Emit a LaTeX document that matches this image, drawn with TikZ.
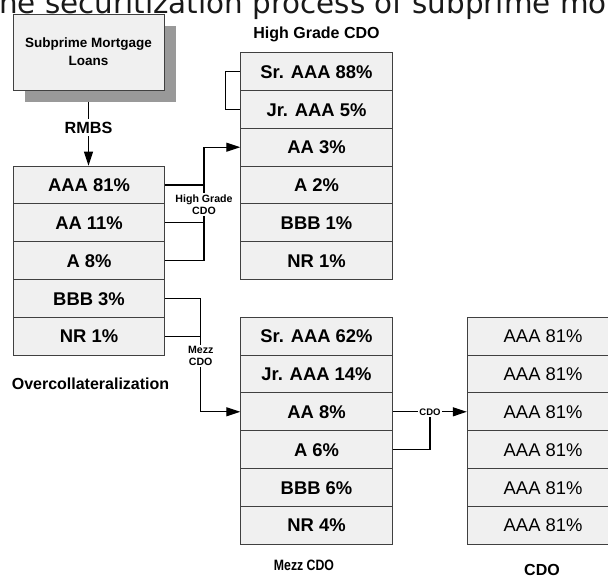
\documentclass[tikz,border=0pt]{standalone}
\usepackage{graphicx}
\usepackage{fontspec}
\setmainfont{Liberation Sans}
\newfontfamily\titlefont{DejaVu Sans}
\usetikzlibrary{arrows.meta,shadows}
\pgfdeclarelayer{bg}
\pgfdeclarelayer{paper}
\pgfsetlayers{paper,bg,main}
\begin{document}
\begin{tikzpicture}[x=1pt,y=-1pt,
  cellbase/.style={draw=black!75, line width=0.9pt, fill=black!6, minimum width=151.6pt,
    minimum height=37.8pt, inner sep=0pt, text height=13.2pt, text depth=0pt},
  cell/.style={cellbase, font=\fontsize{18.4}{22}\selectfont\bfseries},
  cellr/.style={cellbase, font=\fontsize{18.4}{22}\selectfont},
  conn/.style={line width=1.2pt, black},
  arr/.style={conn, -{Triangle[length=14pt,width=9pt]}},
  lab/.style={font=\fontsize{16}{19}\selectfont\bfseries, inner sep=0pt, text height=11.5pt, text depth=0pt},
  small/.style={fill=white, inner sep=1.5pt, align=center, font=\fontsize{10.6}{12.2}\selectfont\bfseries}]
\useasboundingbox (0,0) rectangle (608,578);
\clip (0,0) rectangle (608,578);
\begin{pgfonlayer}{paper}
\fill[white] (0,0) rectangle (608,578);
\end{pgfonlayer}

% title (clipped at top)
\node[anchor=base west, inner sep=0pt, text=black!90, font=\titlefont\fontsize{29.4}{32}\selectfont] (title) at (-19.0,13.6) {The securitization process of subprime mortgages};

% source box
\node[draw=black!75, line width=0.9pt, fill=black!6, minimum width=151pt, minimum height=76pt,
  align=center, font=\fontsize{13.5}{17.7}\selectfont\bfseries,
  drop shadow={shadow xshift=12pt, shadow yshift=-12pt, fill=black!40, opacity=1}] (sub) at (88.5,52) {Subprime Mortgage\\Loans};

% left column (RMBS tranches)
\node[cell, minimum width=151pt] (L1) at (89,185.0) {AAA 81\%};
\node[cell, minimum width=151pt] (L2) at (89,222.8) {AA 11\%};
\node[cell, minimum width=151pt] (L3) at (89,260.6) {A 8\%};
\node[cell, minimum width=151pt] (L4) at (89,298.4) {BBB 3\%};
\node[cell, minimum width=151pt] (L5) at (89,336.2) {NR 1\%};

% High Grade CDO column
\node[cell] (H1) at (316.5,71.6) {Sr. AAA 88\%};
\node[cell] (H2) at (316.5,109.4) {Jr. AAA 5\%};
\node[cell] (H3) at (316.5,147.2) {AA 3\%};
\node[cell] (H4) at (316.5,185.0) {A 2\%};
\node[cell] (H5) at (316.5,222.8) {BBB 1\%};
\node[cell] (H6) at (316.5,260.6) {NR 1\%};

% Mezz CDO column
\node[cell] (M1) at (316.5,336.2) {Sr. AAA 62\%};
\node[cell] (M2) at (316.5,374.0) {Jr. AAA 14\%};
\node[cell] (M3) at (316.5,411.8) {AA 8\%};
\node[cell] (M4) at (316.5,449.6) {A 6\%};
\node[cell] (M5) at (316.5,487.4) {BBB 6\%};
\node[cell] (M6) at (316.5,525.2) {NR 4\%};

% CDO column
\node[cellr] (C1) at (543.1,336.2) {AAA 81\%};
\node[cellr] (C2) at (543.1,374.0) {AAA 81\%};
\node[cellr] (C3) at (543.1,411.8) {AAA 81\%};
\node[cellr] (C4) at (543.1,449.6) {AAA 81\%};
\node[cellr] (C5) at (543.1,487.4) {AAA 81\%};
\node[cellr] (C6) at (543.1,525.2) {AAA 81\%};

% captions
\node[lab] (hgt) at (316.5,32.8) {High Grade CDO};
\node[lab] (oc) at (90.5,384) {Overcollateralization};
\node[lab, font=\fontsize{15}{18}\selectfont\bfseries, text height=10.7pt] (mzt) at (304,565.3) {\scalebox{0.82}[1]{Mezz CDO}};
\node[lab] (cdot) at (542,569.5) {CDO};

% connector labels
\node[lab, fill=white, inner sep=3pt, font=\fontsize{16.2}{19}\selectfont\bfseries] (rmbs) at (88.5,127.5) {RMBS};
\node[small] (hgl) at (204,204.8) {High Grade\\CDO};
\node[small] (mzl) at (200.7,355.8) {Mezz\\CDO};
\node[small, font=\fontsize{9.5}{11}\selectfont\bfseries, inner sep=1.2pt] (cdol) at (430,412) {CDO};

\begin{pgfonlayer}{bg}
\draw[arr] (sub.south) -- (sub.south |- L1.north);
\draw[conn] (H1.west) -- ++(-15,0) |- (H2.west);
\draw[arr] (L3.east) -- (L3.east -| hgl) |- (H3.west);
\draw[conn] (L1.east) -- (L1.east -| hgl);
\draw[conn] (L2.east) -- (L2.east -| hgl);
\draw[arr] (L4.east) -- (L4.east -| mzl) |- (M3.west);
\draw[conn] (L5.east) -- (L5.east -| mzl);
\draw[arr] (M3.east) -- (C3.west);
\draw[conn] (M4.east) -| (cdol.south);
\end{pgfonlayer}
\end{tikzpicture}
\end{document}
